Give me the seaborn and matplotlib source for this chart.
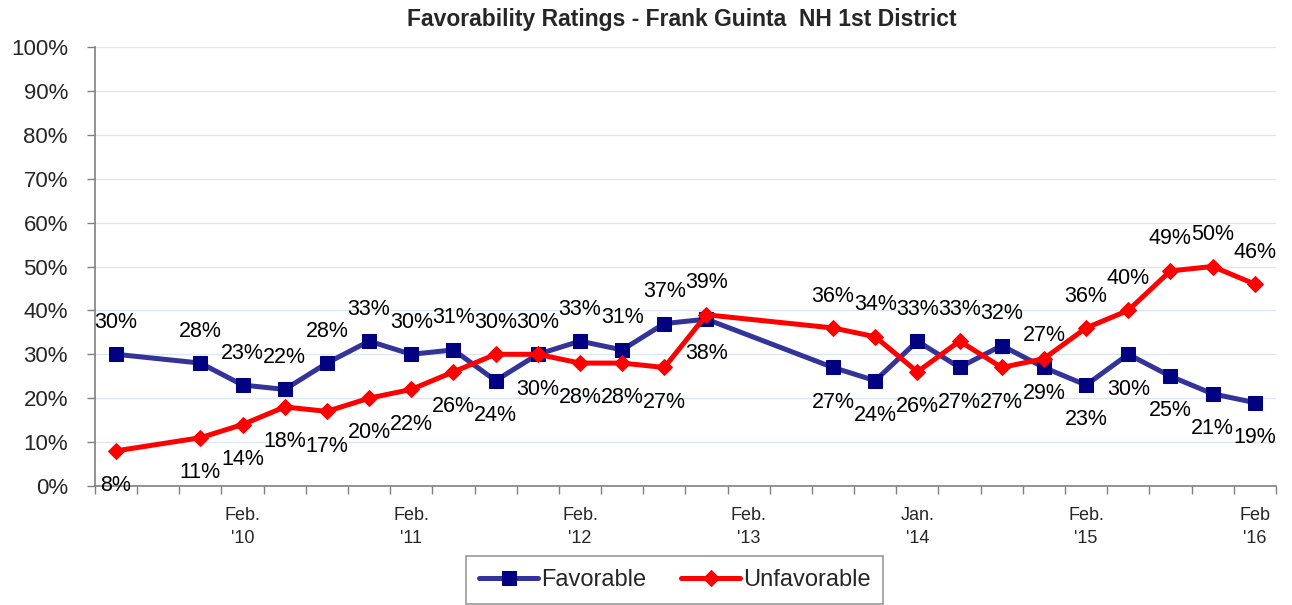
import numpy as np
import pandas as pd
import seaborn as sns
import matplotlib.pyplot as plt
from matplotlib.ticker import FixedLocator, FuncFormatter

# 28 poll slots on a category axis, empty slots have no poll
periods = ['', '', '', "Feb.\n'10", '', '', '', "Feb.\n'11", '', '', '', "Feb.\n'12",
           '', '', '', "Feb.\n'13", '', '', '', "Jan.\n'14", '', '', '', "Feb.\n'15",
           '', '', '', "Feb\n'16"]
favorable = [30, None, 28, 23, 22, 28, 33, 30, 31, 24, 30, 33, 31, 37, 38, None, None,
             27, 24, 33, 27, 32, 27, 23, 30, 25, 21, 19]
unfavorable = [8, None, 11, 14, 18, 17, 20, 22, 26, 30, 30, 28, 28, 27, 39, None, None,
               36, 34, 26, 33, 27, 29, 36, 40, 49, 50, 46]

# label placement per slot: a = above, b = below
fav_pos = 'a' + '_' + 'a' * 7 + 'bb' + 'aaa' + 'b' + '__' + 'bb' + 'a' + 'b' + 'aa' + 'b' * 5
unf_pos = 'b' + '_' + 'b' * 7 + 'aa' + 'bbb' + 'a' + '__' + 'aa' + 'b' + 'a' + 'bb' + 'a' * 5

sns.set_style('white')
plt.rcParams['font.family'] = ['Liberation Sans', 'DejaVu Sans']

df = pd.DataFrame({'slot': np.arange(len(periods)),
                   'Favorable': pd.array(favorable, dtype='Float64'),
                   'Unfavorable': pd.array(unfavorable, dtype='Float64')})

fig = plt.figure(figsize=(12.92, 6.05), dpi=100)
ax = fig.add_axes([0.0735, 0.1967, 0.914, 0.7256])

styles = {
    'Favorable': dict(color='#333399', marker='s', markersize=9.5,
                      markerfacecolor='#000080', markeredgecolor='#000080'),
    'Unfavorable': dict(color='#FF0000', marker='D', markersize=8,
                        markerfacecolor='#FF0000', markeredgecolor='#FF0000'),
}
for name, pos in [('Favorable', fav_pos), ('Unfavorable', unf_pos)]:
    d = df[['slot', name]].dropna()
    sns.lineplot(x=d['slot'].astype(float), y=d[name].astype(float), ax=ax, label=name,
                 linewidth=3.6, legend=False, **styles[name])
    for s, v in zip(d['slot'], d[name]):
        off = 23 if pos[s] == 'a' else -25
        ax.annotate(f'{int(v)}%', (s, v), xytext=(0, off), textcoords='offset points',
                    ha='center', va='center', fontsize=15.5, color='black')

ax.set_xlim(-0.5, len(periods) - 0.5)
ax.set_ylim(0, 100)
ax.set_yticks(np.arange(0, 101, 10))
ax.yaxis.set_major_formatter(FuncFormatter(lambda v, p: f'{v:.0f}%'))
ax.tick_params(axis='y', labelsize=16, length=5.5, width=1, color='#808080',
               direction='out', pad=14, left=True)
ax.grid(axis='y', color='#DCE6F2', linewidth=0.9)
ax.set_axisbelow(True)

ax.set_xticks(range(len(periods)))
ax.set_xticklabels(periods, fontsize=13, linespacing=1.45)
ax.tick_params(axis='x', which='major', length=0, pad=15)
ax.xaxis.set_minor_locator(FixedLocator(np.arange(-0.5, len(periods), 1)))
ax.tick_params(axis='x', which='minor', length=5.5, width=1, color='#808080',
               direction='out', bottom=True)
ax.set_xlabel('')
ax.set_ylabel('')

for sp in ['top', 'right']:
    ax.spines[sp].set_visible(False)
for sp in ['left', 'bottom']:
    ax.spines[sp].set_color('#808080')
    ax.spines[sp].set_linewidth(1.2)

fig.text(0.528, 0.968, 'Favorability Ratings - Frank Guinta  NH 1st District',
         ha='center', va='center', fontsize=16.5, fontweight='bold')

handles, labels = ax.get_legend_handles_labels()
leg = fig.legend(handles, labels, loc='center', bbox_to_anchor=(0.5224, 0.0413), ncol=2,
                 fontsize=17, frameon=True, fancybox=False, edgecolor='#808080',
                 handlelength=2.5, handletextpad=0.1, columnspacing=1.5,
                 borderpad=0.55)
leg.get_frame().set_linewidth(1.2)

fig.savefig('out.png', dpi=100)
